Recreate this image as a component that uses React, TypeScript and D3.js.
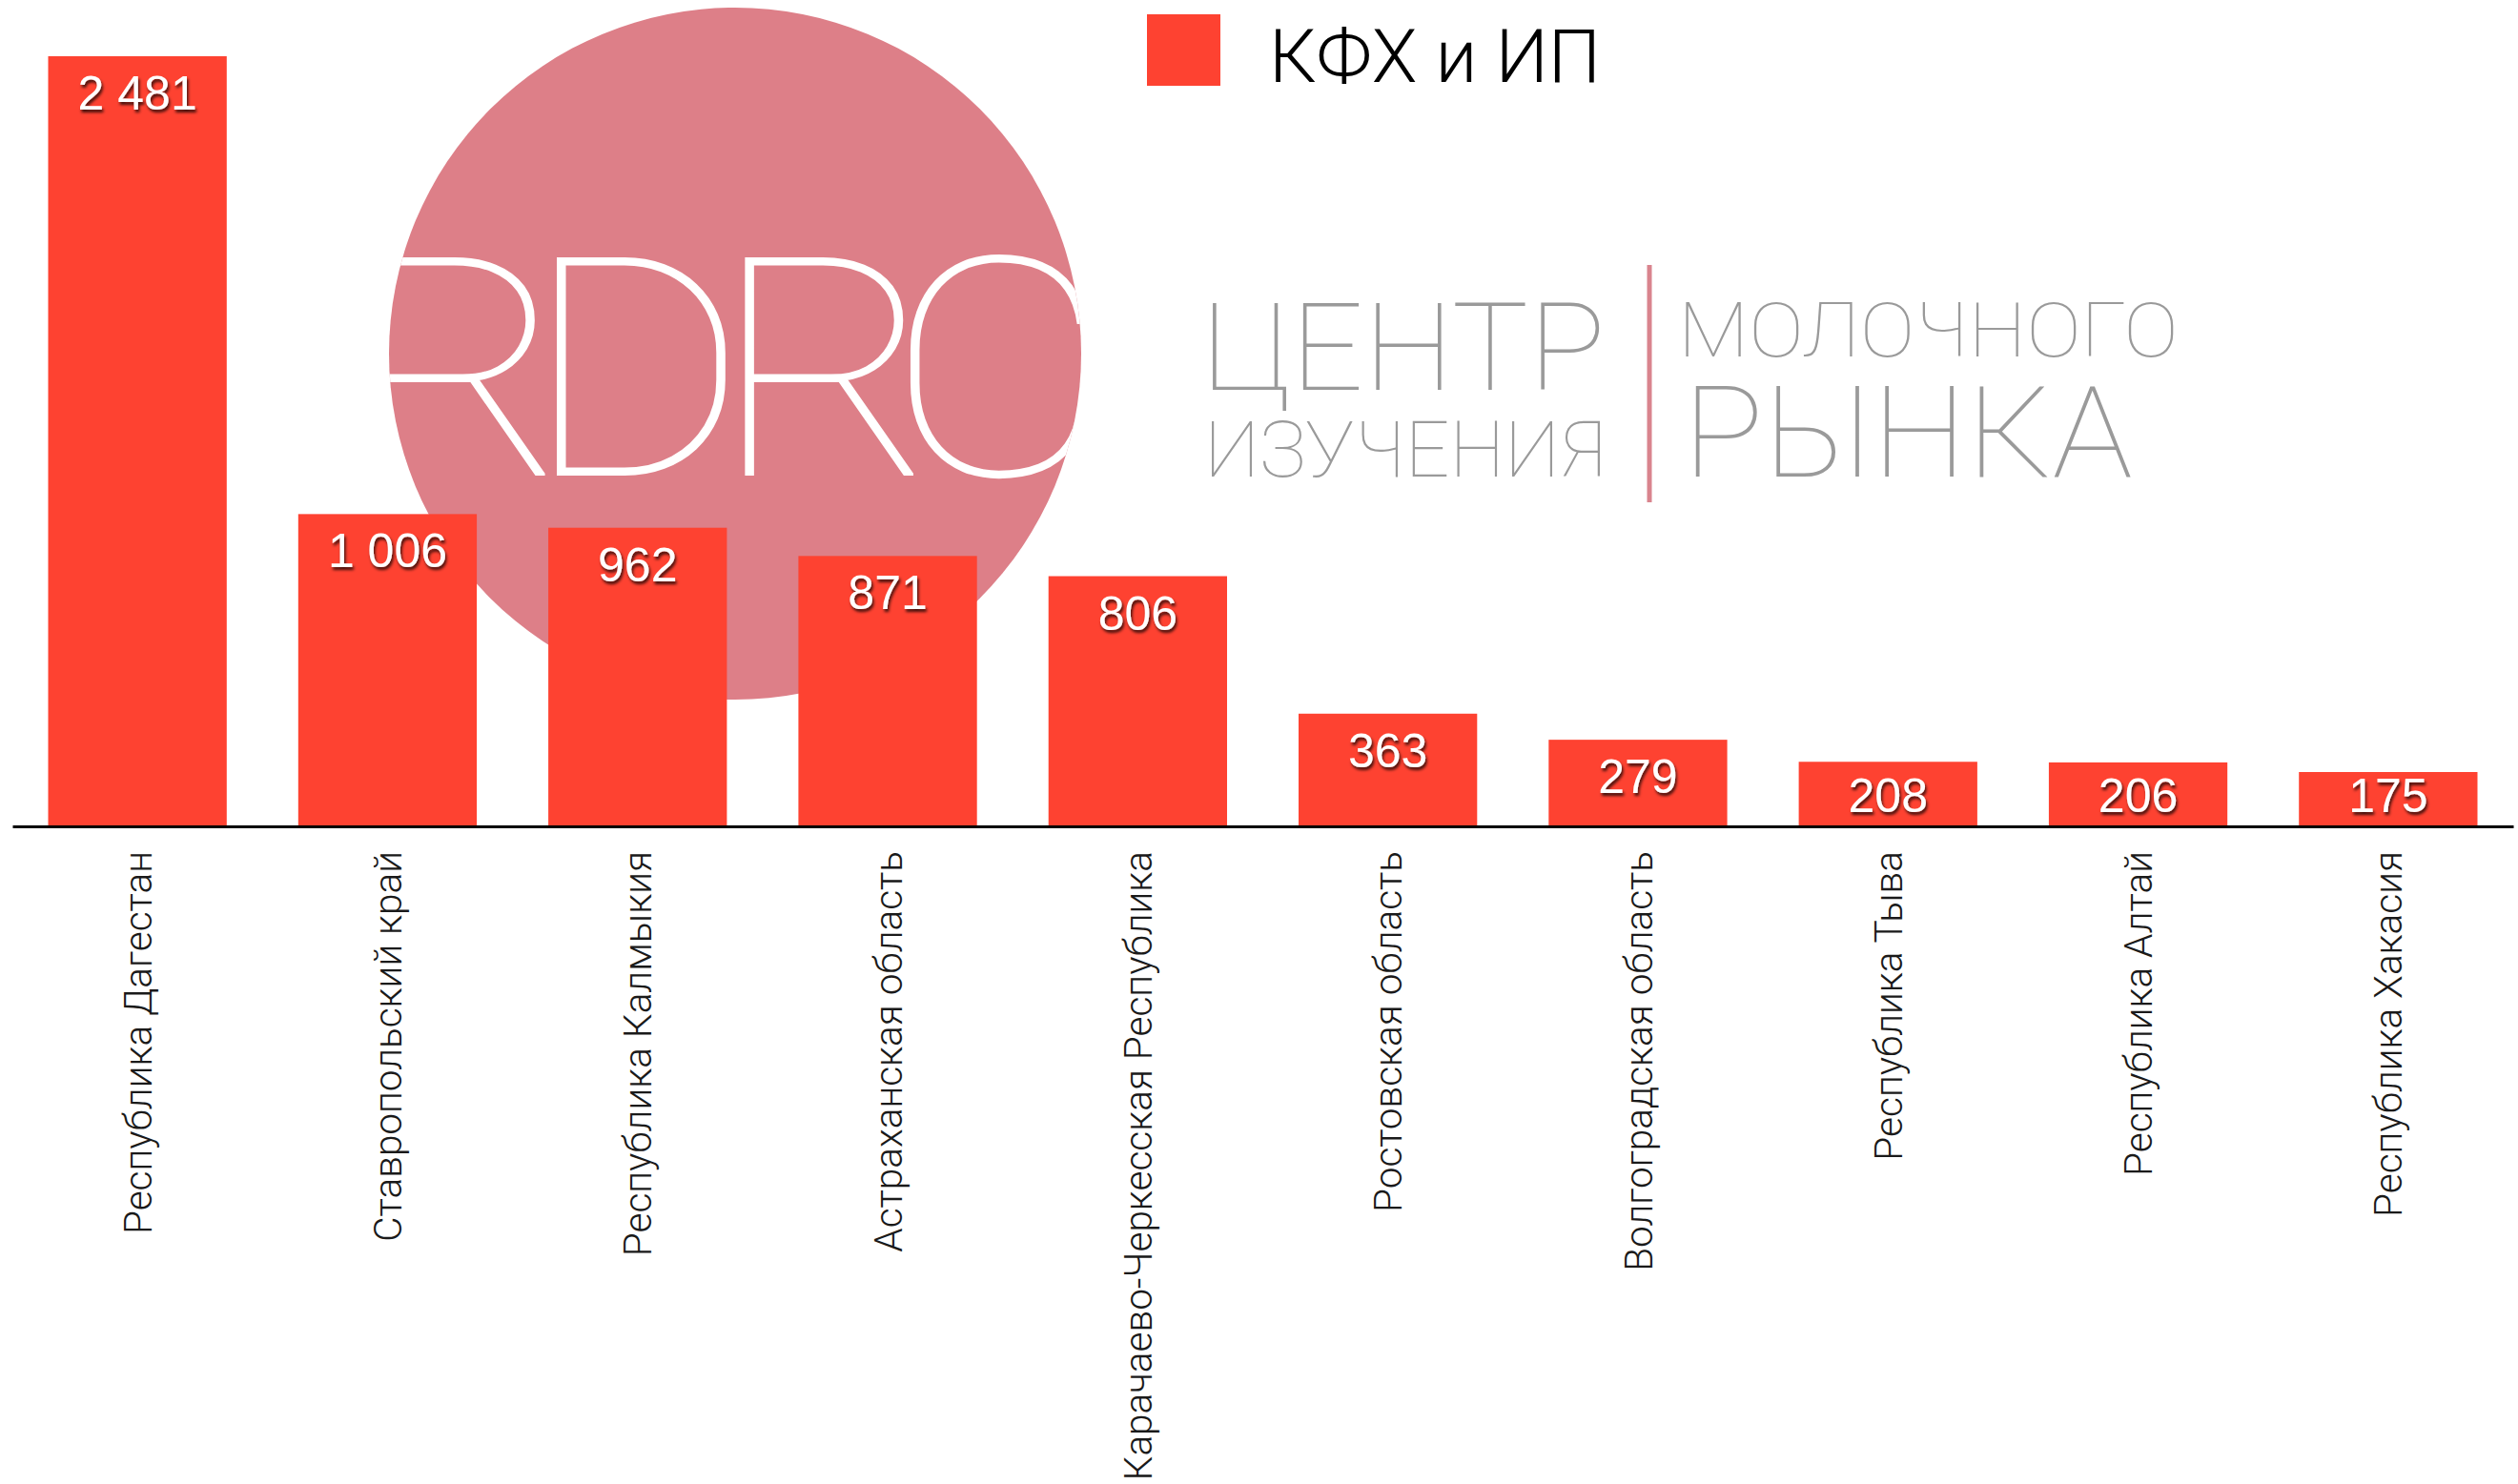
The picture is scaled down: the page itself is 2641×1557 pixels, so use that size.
import { useEffect, useRef } from 'react'
import * as d3 from 'd3'

const categories = [
    'Республика Дагестан',
    'Ставропольский край',
    'Республика Калмыкия',
    'Астраханская область',
    'Карачаево-Черкесская Республика',
    'Ростовская область',
    'Волгоградская область',
    'Республика Тыва',
    'Республика Алтай',
    'Республика Хакасия',
]
const values = [2481, 1006, 962, 871, 806, 363, 279, 208, 206, 175]
const seriesName = 'КФХ и ИП'
const logoLeft = ['ЦЕНТР', 'ИЗУЧЕНИЯ']
const logoRight = ['МОЛОЧНОГО', 'РЫНКА']
const logoMark = 'RDRC'

function App() {
    const ref = useRef(null)

    useEffect(() => {
        const width = 2641
        const height = 1557
        const axisY = 867
        const barColor = '#fe4231'
        const thin = 'Roboto, "Open Sans", Lato, sans-serif'

        const svg = d3.select(ref.current)
        svg.selectAll('*').remove()
        svg.attr('width', width).attr('height', height)

        const xScale = d3
            .scaleBand()
            .domain(categories)
            .range([13, 2636])
            .paddingInner(0.286)
            .paddingOuter(0.143)

        const yScale = d3
            .scaleLinear()
            .domain([0, d3.max(values)])
            .range([axisY, 59])

        const fmt = d3.formatLocale({ decimal: ',', thousands: ' ', grouping: [3], currency: ['', ''] }).format(',d')

        const defs = svg.append('defs')
        defs
            .append('filter')
            .attr('id', 'label-shadow')
            .attr('x', '-20%').attr('y', '-20%').attr('width', '140%').attr('height', '160%')
            .append('feDropShadow')
            .attr('dx', 1.5)
            .attr('dy', 3)
            .attr('stdDeviation', 1.5)
            .attr('flood-color', '#000')
            .attr('flood-opacity', 0.75)

        // watermark logo behind the chart
        const cx = 771, cy = 371, r = 363
        defs
            .append('clipPath')
            .attr('id', 'logo-clip')
            .append('circle')
            .attr('cx', cx).attr('cy', cy).attr('r', r)

        const logo = svg.append('g')
        logo.append('circle')
            .attr('cx', cx).attr('cy', cy).attr('r', r)
            .style('fill', '#dd7f88')
        // letters are a bit wider and packed tighter than the font's default
        const stretch = 1.12
        logo.append('g')
            .attr('clip-path', 'url(#logo-clip)')
            .append('text')
            .attr('transform', `scale(${stretch}, 1)`)
            .attr('x', '322 490 667 830')
            .attr('y', 499)
            .style('font-family', thin)
            .style('font-weight', 100)
            .style('font-size', '322px')
            .style('fill', '#fff')
            .text(logoMark)

        const grey = '#9a9a9a'
        const logoText = [
            { t: logoLeft[0], x: 1260, y: 409, s: 128, w: 424 },
            { t: logoLeft[1], x: 1263, y: 500, s: 82, w: 421 },
            { t: logoRight[0], x: 1760, y: 374, s: 80, w: 525 },
            { t: logoRight[1], x: 1765, y: 500, s: 134, w: 472 },
        ]
        logo.selectAll('.logo-word')
            .data(logoText)
            .enter()
            .append('text')
            .attr('x', d => d.x).attr('y', d => d.y)
            .attr('textLength', d => d.w)
            .attr('lengthAdjust', 'spacingAndGlyphs')
            .style('font-family', thin)
            .style('font-weight', 100)
            .style('font-size', d => d.s + 'px')
            .style('fill', grey)
            .text(d => d.t)
        logo.append('line')
            .attr('x1', 1730).attr('x2', 1730)
            .attr('y1', 278).attr('y2', 527)
            .style('stroke', '#d9848e')
            .style('stroke-width', 5)

        // bars
        svg.append('g')
            .selectAll('rect')
            .data(values)
            .enter()
            .append('rect')
            .attr('x', (d, i) => xScale(categories[i]))
            .attr('y', d => yScale(d))
            .attr('width', xScale.bandwidth())
            .attr('height', d => axisY - yScale(d))
            .style('fill', barColor)

        svg.append('g')
            .selectAll('text')
            .data(values)
            .enter()
            .append('text')
            .attr('x', (d, i) => xScale(categories[i]) + xScale.bandwidth() / 2)
            .attr('y', d => Math.min(yScale(d) + 56, axisY - 15))
            .attr('text-anchor', 'middle')
            .attr('filter', 'url(#label-shadow)')
            .style('font-family', '"Liberation Sans", Arial, sans-serif')
            .style('font-size', '50px')
            .style('fill', '#fff')
            .text(d => fmt(d))

        // axis with rotated category names
        const axis = svg.append('g')
            .attr('transform', `translate(0, ${axisY})`)
            .call(d3.axisBottom(xScale).tickSize(0).tickSizeOuter(0))
        axis.select('.domain')
            .style('stroke', '#000')
            .style('stroke-width', 3)
        axis.selectAll('text')
            .attr('transform', 'rotate(-90)')
            .attr('x', -26)
            .attr('y', 0)
            .attr('dy', '0.36em')
            .attr('text-anchor', 'end')
            .style('font-family', thin)
            .style('font-weight', 300)
            .style('font-size', '40.5px')
            .style('fill', '#1a1a1a')

        // legend
        const legend = svg.append('g')
        legend.append('rect')
            .attr('x', 1203).attr('y', 15)
            .attr('width', 77).attr('height', 75)
            .style('fill', barColor)
        legend.append('text')
            .attr('x', 1331).attr('y', 86)
            .style('font-family', thin)
            .style('font-weight', 300)
            .style('font-size', '78px')
            .style('fill', '#000')
            .text(seriesName)
    })

    return (
        <svg
            ref={ref}
            style={{ position: 'absolute', left: 0, top: 0, background: '#fff' }}
        />
    )
}

export default App
